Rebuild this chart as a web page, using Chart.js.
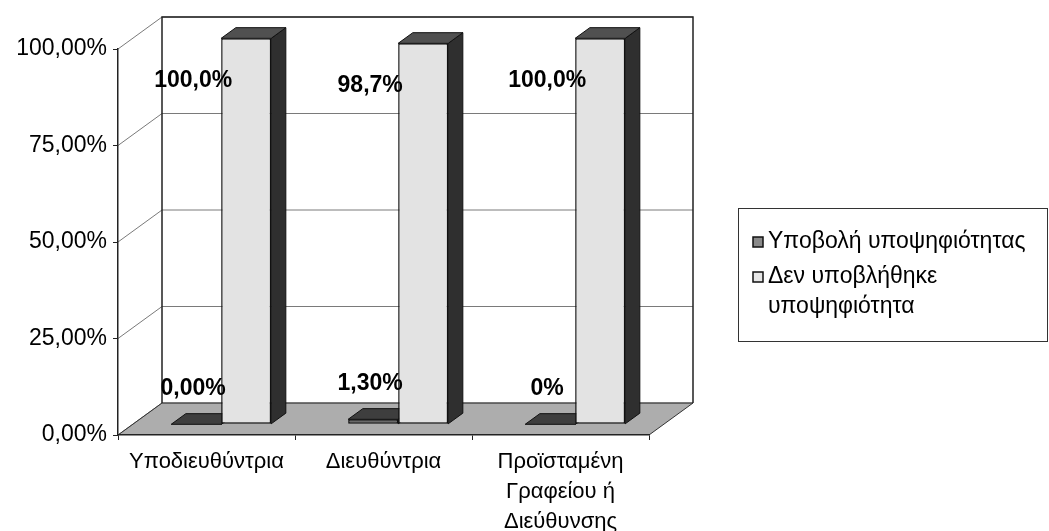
<!DOCTYPE html>
<html>
<head>
<meta charset="utf-8">
<script src="https://cdn.jsdelivr.net/npm/chart.js@4.4.0/dist/chart.umd.min.js"></script>
<style>
    html, body { margin: 0; padding: 0; background: #ffffff; }
</style>
</head>
<body>
<canvas id="candidacyChart" width="1049" height="531"></canvas>
<script>
const categories = ['Υποδιευθύντρια', 'Διευθύντρια', ['Προϊσταμένη', 'Γραφείου ή', 'Διεύθυνσης']];
const seriesNames = ['Υποβολή υποψηφιότητας', 'Δεν υποβλήθηκε υποψηφιότητα'];
const submitted = [0, 1.3, 0];
const notSubmitted = [100, 98.7, 100];
const submittedLabels = ['0,00%', '1,30%', '0%'];
const notSubmittedLabels = ['100,0%', '98,7%', '100,0%'];
const yTicks = [0, 25, 50, 75, 100];

const FONT = '"Liberation Sans", Arial, sans-serif';
Chart.defaults.font.family = FONT;
Chart.defaults.color = '#000';

// depth of the 3d box; bars sit in its middle third
const depth = { x: 44, y: -32 };
const shift = { x: depth.x / 3, y: depth.y / 3 };

const faceColors = [
    { front: '#6a6a6a', side: '#2a2a2a', top: '#3e3e3e', key: '#8a8a8a' },
    { front: '#e3e3e3', side: '#2f2f2f', top: '#505050', key: '#e6e6e6' }
];

const walls = {
    id: 'walls',
    beforeDraw: (chart) => {
        const ctx = chart.ctx;
        const { left, right, bottom } = chart.chartArea;
        const y = chart.scales.y;
        ctx.save();
        ctx.fillStyle = '#ffffff';
        ctx.fillRect(0, 0, chart.width, chart.height);

        // floor
        ctx.beginPath();
        ctx.moveTo(left, bottom);
        ctx.lineTo(right, bottom);
        ctx.lineTo(right + depth.x, bottom + depth.y);
        ctx.lineTo(left + depth.x, bottom + depth.y);
        ctx.closePath();
        ctx.fillStyle = '#adadad';
        ctx.fill();

        // gridlines on side wall and back wall
        ctx.strokeStyle = '#7a7a7a';
        ctx.lineWidth = 1;
        yTicks.forEach(v => {
            const py = y.getPixelForValue(v);
            ctx.beginPath();
            ctx.moveTo(left, py);
            ctx.lineTo(left + depth.x, py + depth.y);
            ctx.lineTo(right + depth.x, py + depth.y);
            ctx.stroke();
        });

        // floor edges
        ctx.strokeStyle = '#333';
        ctx.beginPath();
        ctx.moveTo(left, bottom);
        ctx.lineTo(left + depth.x, bottom + depth.y);
        ctx.lineTo(right + depth.x, bottom + depth.y);
        ctx.moveTo(right, bottom);
        ctx.lineTo(right + depth.x, bottom + depth.y);
        ctx.stroke();

        // back wall frame
        const top = y.getPixelForValue(100) + depth.y;
        ctx.strokeStyle = '#222';
        ctx.lineWidth = 1.5;
        ctx.beginPath();
        ctx.moveTo(left + depth.x, bottom + depth.y);
        ctx.lineTo(left + depth.x, top);
        ctx.lineTo(right + depth.x, top);
        ctx.lineTo(right + depth.x, bottom + depth.y);
        ctx.stroke();
        ctx.restore();
    }
};

const poly = (ctx, pts, fill) => {
    ctx.beginPath();
    ctx.moveTo(pts[0][0], pts[0][1]);
    pts.slice(1).forEach(p => ctx.lineTo(p[0], p[1]));
    ctx.closePath();
    ctx.fillStyle = fill;
    ctx.fill();
    ctx.stroke();
};

const bars3d = {
    id: 'bars3d',
    beforeDatasetsDraw: (chart) => {
        const ctx = chart.ctx;
        ctx.save();
        ctx.translate(shift.x, shift.y);
        ctx.strokeStyle = '#111';
        ctx.lineWidth = 1;
        chart.data.datasets.forEach((ds, i) => {
            chart.getDatasetMeta(i).data.forEach(bar => {
                const l = bar.x - bar.width / 2;
                const r = bar.x + bar.width / 2;
                const t = bar.y;
                const b = bar.base;
                poly(ctx, [[r, t], [r + shift.x, t + shift.y], [r + shift.x, b + shift.y], [r, b]], faceColors[i].side);
                poly(ctx, [[l, t], [l + shift.x, t + shift.y], [r + shift.x, t + shift.y], [r, t]], faceColors[i].top);
            });
        });
        ctx.restore();
        // front faces are drawn by the library in the bar plane
        ctx.save();
        ctx.translate(shift.x, shift.y);
    },
    afterDatasetsDraw: (chart) => {
        const ctx = chart.ctx;
        ctx.restore();

        ctx.save();
        ctx.font = 'bold 23px ' + FONT;
        ctx.fillStyle = '#000';
        ctx.textAlign = 'center';
        ctx.textBaseline = 'middle';
        const texts = [submittedLabels, notSubmittedLabels];
        chart.data.datasets.forEach((ds, i) => {
            chart.getDatasetMeta(i).data.forEach((bar, j) => {
                const edge = i === 0 ? bar.x + bar.width / 2 : bar.x - bar.width / 2;
                const x = edge + shift.x - 28;
                const y = i === 0 ? bar.y + shift.y - 36 : bar.y + shift.y + 42;
                ctx.fillText(texts[i][j], x, y);
            });
        });
        ctx.restore();
    }
};

const sideLegend = {
    id: 'sideLegend',
    afterDraw: (chart) => {
        const ctx = chart.ctx;
        const box = { x: 738, y: 208, w: 309, h: 133 };
        ctx.save();
        ctx.strokeStyle = '#333';
        ctx.lineWidth = 1;
        ctx.strokeRect(box.x + 0.5, box.y + 0.5, box.w, box.h);

        ctx.font = '23px ' + FONT;
        ctx.textBaseline = 'middle';
        ctx.textAlign = 'left';
        const textX = box.x + 30;
        const maxW = box.x + box.w - textX - 2;
        let rowY = box.y + 34;
        chart.data.datasets.forEach((ds, i) => {
            // wrap words to the box width
            const lines = [];
            let line = '';
            ds.label.split(' ').forEach(word => {
                const test = line ? line + ' ' + word : word;
                if (line && ctx.measureText(test).width > maxW) {
                    lines.push(line);
                    line = word;
                } else {
                    line = test;
                }
            });
            lines.push(line);

            ctx.fillStyle = faceColors[i].key;
            ctx.fillRect(box.x + 15, rowY - 5, 10, 10);
            ctx.strokeStyle = '#111';
            ctx.lineWidth = 1.5;
            ctx.strokeRect(box.x + 15, rowY - 5, 10, 10);

            ctx.fillStyle = '#000';
            lines.forEach((txt, k) => ctx.fillText(txt, textX, rowY + k * 30));
            rowY += (lines.length - 1) * 30 + 35;
        });
        ctx.restore();
    }
};

const data = {
    labels: categories,
    datasets: [
        {
            label: seriesNames[0],
            data: submitted,
            backgroundColor: faceColors[0].front,
            borderColor: '#111',
            borderWidth: 1.5,
            borderSkipped: false
        },
        {
            label: seriesNames[1],
            data: notSubmitted,
            backgroundColor: faceColors[1].front,
            borderColor: '#111',
            borderWidth: 1.5,
            borderSkipped: false
        }
    ]
};

const config = {
    type: 'bar',
    data: data,
    plugins: [walls, bars3d, sideLegend],
    options: {
        responsive: false,
        animation: false,
        categoryPercentage: 0.565,
        barPercentage: 1.0,
        layout: {
            padding: { top: 49, right: 400, left: 0, bottom: 0 }
        },
        plugins: {
            legend: { display: false },
            tooltip: { enabled: false }
        },
        scales: {
            x: {
                afterFit: (scale) => { scale.height = 96; },
                grid: { drawOnChartArea: false, tickLength: 5, color: '#222', offset: true },
                border: { color: '#222', width: 1.5 },
                ticks: {
                    color: '#000',
                    maxRotation: 0,
                    autoSkip: false,
                    padding: 7,
                    font: { size: 22, lineHeight: 1.36 }
                }
            },
            y: {
                min: 0,
                max: 100,
                afterFit: (scale) => { scale.width = 118; },
                grid: { drawOnChartArea: false, tickLength: 5, color: '#222' },
                border: { color: '#222', width: 1.5 },
                ticks: {
                    stepSize: 25,
                    color: '#000',
                    padding: 6,
                    font: { size: 23 },
                    callback: (v) => v.toFixed(2).replace('.', ',') + '%'
                }
            }
        }
    }
};

const candidacyChart = new Chart(
    document.getElementById('candidacyChart'),
    config
);
</script>
</body>
</html>
